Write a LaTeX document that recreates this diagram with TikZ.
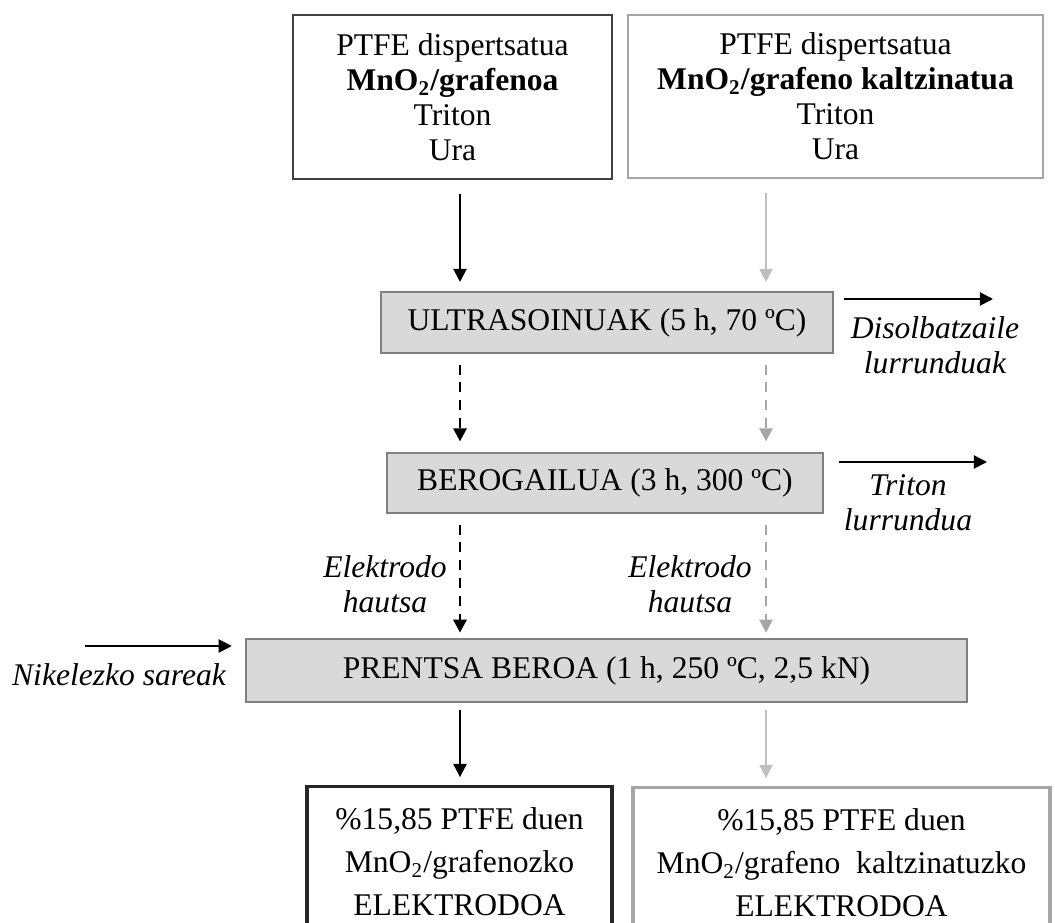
\documentclass[tikz,border=0pt]{standalone}
\usepackage{fontspec}
\setmainfont{Liberation Serif}
\usetikzlibrary{arrows.meta}

\newcommand{\pxu}{0.38pt}
\definecolor{stagefill}{HTML}{D9D9D9}
\definecolor{stageedge}{HTML}{808080}
\definecolor{paleline}{HTML}{BFBFBF}
\definecolor{paleedge}{HTML}{A6A6A6}
\definecolor{darkedge}{HTML}{404040}

\tikzset{
  txt/.style={font=\fontsize{12}{13.3}\selectfont, align=center, inner sep=0pt},
  mixbox/.style={txt, draw=#1, line width=0.6pt},
  stagebox/.style={txt, draw=stageedge, fill=stagefill, line width=0.8pt},
  endbox/.style={txt, draw=#1, line width=1.2pt, font=\fontsize{12}{16.3}\selectfont},
  note/.style={txt, font=\fontsize{12}{13.3}\selectfont\itshape},
  flow/.style={-{Triangle[length=5pt,width=5pt]}, line width=0.75pt, draw=black},
  paleflow/.style={flow, draw=paleline, line width=0.6pt},
  dashflow/.style={flow, line width=1.1pt, dash pattern=on 3.8pt off 3pt},
  paledash/.style={dashflow, draw=paleedge, line width=0.9pt},
  gapped/.style={shorten <=4pt, shorten >=4pt}
}

\begin{document}
\begin{tikzpicture}[x=\pxu, y=-\pxu]
  \useasboundingbox (0,0) rectangle (1055,923);

  % starting mixtures
  \node[mixbox=darkedge, minimum width=319*\pxu, minimum height=164*\pxu] (mixA) at (452.5,97)
    {PTFE dispertsatua\\ \textbf{MnO\textsubscript{2}/grafenoa}\\ Triton\\ Ura};
  \node[mixbox=paleedge, minimum width=415*\pxu, minimum height=163*\pxu] (mixB) at (835.5,96.5)
    {PTFE dispertsatua\\ \textbf{MnO\textsubscript{2}/grafeno kaltzinatua}\\ Triton\\ Ura};

  % process steps
  \node[stagebox, minimum width=452*\pxu, minimum height=61*\pxu] (ultra) at (607,322.5)
    {ULTRASOINUAK (5 h, 70 ºC)};
  \node[stagebox, minimum width=436*\pxu, minimum height=60*\pxu] (oven) at (605,483)
    {BEROGAILUA (3 h, 300 ºC)};
  \node[stagebox, minimum width=721*\pxu, minimum height=63*\pxu] (press) at (606.5,670.5)
    {PRENTSA BEROA (1 h, 250 ºC, 2,5 kN)};

  % electrodes
  \node[endbox=black!85, minimum width=305*\pxu, minimum height=150*\pxu, anchor=north] (elecA) at (459.5,785)
    {\%15,85 PTFE duen\\ MnO\textsubscript{2}/grafenozko\\ ELEKTRODOA};
  \node[endbox=paleedge, minimum width=417*\pxu, minimum height=150*\pxu, anchor=north] (elecB) at (841.5,786)
    {\%15,85 PTFE duen\\ MnO\textsubscript{2}/grafeno\ \ kaltzinatuzko\\ ELEKTRODOA};

  % columns of the two routes
  \coordinate (colA) at (460,0);
  \coordinate (colB) at (766,0);

  \draw[flow, gapped, shorten <=5.3pt, shorten >=3.4pt] (mixA.south -| colA) -- (ultra.north -| colA);
  \draw[paleflow, gapped, shorten <=5.3pt, shorten >=3.4pt] (mixB.south -| colB) -- (ultra.north -| colB);
  \draw[dashflow, gapped] (ultra.south -| colA) -- (oven.north -| colA);
  \draw[paledash, gapped] (ultra.south -| colB) -- (oven.north -| colB);
  \draw[dashflow, gapped, shorten >=2pt] (oven.south -| colA) -- (press.north -| colA);
  \draw[paledash, gapped, shorten >=2pt] (oven.south -| colB) -- (press.north -| colB);
  \draw[flow, gapped, shorten <=2.7pt, shorten >=3pt] (press.south -| colA) -- (elecA.north -| colA);
  \draw[paleflow, gapped, shorten <=2.7pt, shorten >=3pt] (press.south -| colB) -- (elecB.north -| colB);

  % side streams
  \coordinate (ventA) at (993,299);
  \coordinate (ventB) at (987,462);
  \coordinate (nickel) at (85,646);
  \draw[flow, shorten <=3.8pt] (ultra.east |- ventA) -- (ventA);
  \draw[flow, shorten <=5.7pt] (oven.east |- ventB) -- (ventB);
  \draw[flow, shorten >=5pt] (nickel) -- (press.west |- nickel);

  \node[note] (solvent) at (935,345) {Disolbatzaile\\ lurrunduak};
  \node[note] (triton) at (908,503) {Triton\\ lurrundua};
  \node[note] (sheets) at (119,675) {Nikelezko sareak};
  \node[note] (dustA) at (385,584) {Elektrodo\\ hautsa};
  \node[note] (dustB) at (690,584) {Elektrodo\\ hautsa};
\end{tikzpicture}
\end{document}
